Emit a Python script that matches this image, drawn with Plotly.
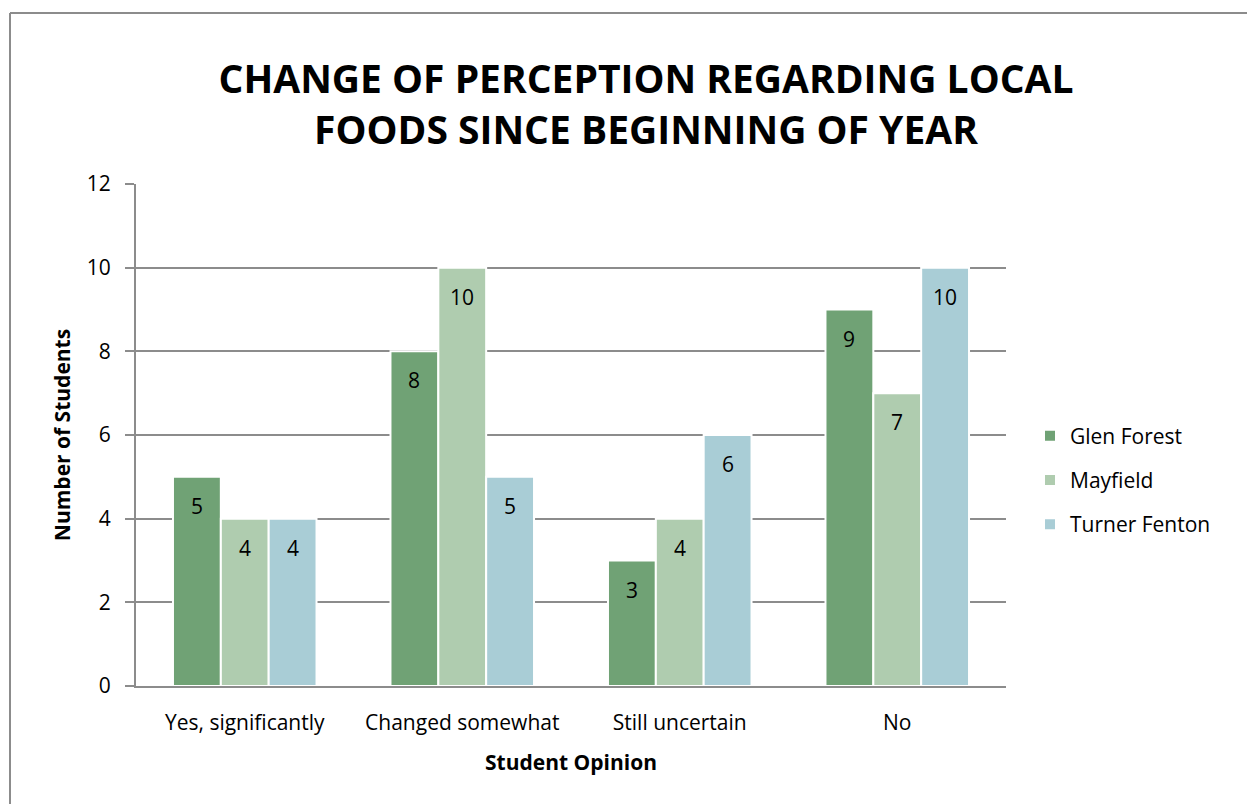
import plotly.graph_objects as go

# Survey responses per school
categories = ["Yes, significantly", "Changed somewhat", "Still uncertain", "No"]
glen_forest = [5, 8, 3, 9]
mayfield = [4, 10, 4, 7]
turner_fenton = [4, 5, 6, 10]
y_ticks = [0, 2, 4, 6, 8, 10, 12]

series = [
    ("Glen Forest", glen_forest, "#70A275"),
    ("Mayfield", mayfield, "#AFCCAF"),
    ("Turner Fenton", turner_fenton, "#A9CDD6"),
]

W, H = 1247, 804
ML, MR, MT, MB = 136, 241, 184, 118
FONT = "Open Sans, Lato, sans-serif"
BARGAP = 0.34

fig = go.Figure()
for i, (name, vals, color) in enumerate(series):
    fig.add_trace(go.Bar(
        name=name, x=categories, y=vals,
        legendgroup=name,
        marker=dict(color=color, line=dict(color="white", width=2)),
    ))

pw = W - ML - MR
ph = H - MT - MB

# value labels just inside the top of each bar
slot = pw / len(categories)
bar_w = slot * (1 - BARGAP) / len(series)
for i, (name, vals, color) in enumerate(series):
    offset = (i - (len(series) - 1) / 2) * bar_w
    for cat, v in zip(categories, vals):
        fig.add_annotation(
            x=cat, y=v, xref="x", yref="y", text=str(v),
            showarrow=False, xshift=offset, yshift=-29,
            yanchor="middle", xanchor="center",
            font=dict(family=FONT, size=21, color="black"),
        )

def px_x(p):
    return (p - ML) / pw
def px_y(p):
    return (H - MB - p) / ph

# outer chart frame (top and left edges)
fig.add_shape(type="line", xref="paper", yref="paper",
              x0=px_x(10), x1=px_x(W + 5), y0=px_y(13), y1=px_y(13),
              line=dict(color="#8C8C8C", width=2))
fig.add_shape(type="line", xref="paper", yref="paper",
              x0=px_x(10), x1=px_x(10), y0=px_y(13), y1=px_y(H + 5),
              line=dict(color="#8C8C8C", width=2))

fig.update_layout(
    width=W, height=H,
    margin=dict(l=ML, r=MR, t=MT, b=MB),
    paper_bgcolor="white", plot_bgcolor="white",
    barmode="group", bargap=BARGAP, bargroupgap=0,
    font=dict(family=FONT, color="black"),
    title=dict(
        text="CHANGE OF PERCEPTION REGARDING LOCAL<br>FOODS SINCE BEGINNING OF YEAR",
        x=646 / W, xanchor="center", xref="container",
        y=1 - 93 / H, yanchor="middle", yref="container",
        font=dict(family=FONT, size=39, color="black", weight="bold"),
    ),
    legend=dict(
        x=1030 / W, xref="container", xanchor="left",
        y=1 - 480 / H, yref="container", yanchor="middle",
        font=dict(family=FONT, size=21), tracegroupgap=14,
        traceorder="grouped",
        itemwidth=30, bgcolor="rgba(0,0,0,0)",
    ),
    showlegend=True,
)
fig.update_xaxes(
    showline=True, linecolor="#8C8C8C", linewidth=2,
    ticks="", tickfont=dict(family=FONT, size=21),
    ticklabelstandoff=17,
    title=dict(text="Student Opinion", standoff=20,
               font=dict(family=FONT, size=21, weight="bold")),
)
fig.update_yaxes(
    range=[0, 12], tickvals=y_ticks,
    showline=True, linecolor="#8C8C8C", linewidth=2,
    showgrid=True, gridcolor="#8C8C8C", gridwidth=1.5,
    ticks="outside", ticklen=9, tickcolor="#8C8C8C", tickwidth=1.5,
    tickfont=dict(family=FONT, size=21),
    ticklabelstandoff=10,
    zeroline=False,
    title=dict(text="Number of Students", standoff=10,
               font=dict(family=FONT, size=21, weight="bold")),
)

fig.write_html("out.html")
